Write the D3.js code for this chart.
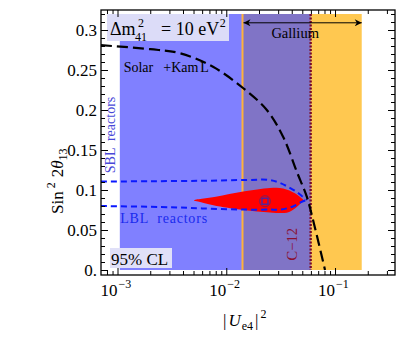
<!DOCTYPE html>
<html>
<head>
<meta charset="utf-8">
<script src="https://cdnjs.cloudflare.com/ajax/libs/d3/7.8.5/d3.min.js"></script>
<style>
  body { margin: 0; background: #fff; }
  svg text { font-family: "Liberation Serif", "DejaVu Serif", serif; }
</style>
</head>
<body>
<svg width="407" height="347" font-family="Liberation Serif, DejaVu Serif, serif"></svg>
<script>
// x = |Ue4|^2, y = sin^2 2theta13
const xDomain = [7.05e-4, 0.356]
const yDomain = [-0.00625, 0.325]
const bandTop = 0.32
const reactorBand = [0.00105, 0.0597]
const galliumBand = [0.0141, 0.176]
const c12Limit = 0.0597
const xMajor = [1e-3, 1e-2, 1e-1]
const xMajorLabels = ['\u22123', '\u22122', '\u22121']
const yMajor = [0, 0.05, 0.1, 0.15, 0.2, 0.25, 0.3]
const yMajorLabels = ['0.', '0.05', '0.1', '0.15', '0.2', '0.25', '0.3']

const solarKamL = [[7.05e-4, 0.281], [0.002, 0.276], [0.00376, 0.271], [0.00755, 0.254],
  [0.01425, 0.2275], [0.0236, 0.200], [0.0333, 0.1666], [0.0445, 0.1229],
  [0.055, 0.0916], [0.0628, 0.0625], [0.0809, 0]]
const sblCurve = [[7.05e-4, 0.1105], [0.002, 0.111], [0.006, 0.1115], [0.015, 0.1125],
  [0.025, 0.1125], [0.031, 0.109], [0.038, 0.103], [0.045, 0.097], [0.051, 0.091], [0.055, 0.0875]]
const lblCurve = [[7.05e-4, 0.080], [0.003, 0.0785], [0.006, 0.077], [0.015, 0.0755],
  [0.025, 0.0755], [0.031, 0.0755], [0.036, 0.077], [0.042, 0.080], [0.049, 0.085], [0.055, 0.0875]]
const allowedRegion = [[0.00505, 0.087], [0.008, 0.0915], [0.0143, 0.098], [0.0252, 0.1025],
  [0.0334, 0.102], [0.0428, 0.096], [0.048, 0.091], [0.051, 0.0875], [0.049, 0.084],
  [0.0428, 0.077], [0.036, 0.0717], [0.0252, 0.072], [0.0143, 0.075], [0.0076, 0.081], [0.0055, 0.0855]]
const bestFit = [0.0227, 0.086]

const svg = d3.select('svg')
const margin = {left: 101, right: 12, top: 10, bottom: 72}
const W = 407, H = 347

const x = d3.scaleLog().domain(xDomain).range([margin.left, W - margin.right])
const y = d3.scaleLinear().domain(yDomain).range([H - margin.bottom, margin.top])

const g = svg.append('g')

// bands
g.append('rect')
  .attr('x', x(reactorBand[0])).attr('y', y(bandTop))
  .attr('width', x(reactorBand[1]) - x(reactorBand[0]))
  .attr('height', y(0) - y(bandTop))
  .attr('fill', '#8080ff')
g.append('rect')
  .attr('x', x(galliumBand[0])).attr('y', y(bandTop))
  .attr('width', x(galliumBand[1]) - x(galliumBand[0]))
  .attr('height', y(0) - y(bandTop))
  .attr('fill', '#ffc850')
// overlap of the two
const ov = [Math.max(reactorBand[0], galliumBand[0]), Math.min(reactorBand[1], galliumBand[1])]
g.append('rect')
  .attr('x', x(ov[0])).attr('y', y(bandTop))
  .attr('width', x(ov[1]) - x(ov[0]))
  .attr('height', y(0) - y(bandTop))
  .attr('fill', '#8074c6')

// gallium lower edge line
g.append('line')
  .attr('x1', x(galliumBand[0])).attr('x2', x(galliumBand[0]))
  .attr('y1', y(bandTop)).attr('y2', y(0))
  .attr('stroke', '#ffb23a').attr('stroke-width', 2)

// delta m label box
g.append('rect').attr('x', 107).attr('y', y(bandTop)).attr('width', 122).attr('height', 27)
  .attr('fill', '#dcdcf8')

// C-12 dotted line
g.append('line')
  .attr('x1', x(c12Limit)).attr('x2', x(c12Limit))
  .attr('y1', y(bandTop)).attr('y2', y(0))
  .attr('stroke', '#7a0a2a').attr('stroke-width', 2.4).attr('stroke-dasharray', '2,1.5')

// allowed region
const line = d3.line().x(d => x(d[0])).y(d => y(d[1]))
g.append('path')
  .attr('d', line.curve(d3.curveCatmullRomClosed)(allowedRegion))
  .attr('fill', '#ff0000')

// reactor contours
const lineOpen = d3.line().x(d => x(d[0])).y(d => y(d[1])).curve(d3.curveCatmullRom)
g.append('path').attr('d', lineOpen(sblCurve))
  .attr('fill', 'none').attr('stroke', '#0a18ff').attr('stroke-width', 2).attr('stroke-dasharray', '6,4')
g.append('path').attr('d', lineOpen(lblCurve))
  .attr('fill', 'none').attr('stroke', '#0a18ff').attr('stroke-width', 2).attr('stroke-dasharray', '6,4')

// solar + kamland
g.append('path').attr('d', lineOpen(solarKamL))
  .attr('fill', 'none').attr('stroke', '#000').attr('stroke-width', 2.2).attr('stroke-dasharray', '11,5')

// best fit marker
g.append('circle').attr('cx', x(bestFit[0])).attr('cy', y(bestFit[1])).attr('r', 5.5)
  .attr('fill', 'none').attr('stroke', '#8a1a50').attr('stroke-width', 1)
g.append('rect').attr('x', x(bestFit[0]) - 3).attr('y', y(bestFit[1]) - 3)
  .attr('width', 6).attr('height', 6)
  .attr('fill', 'none').attr('stroke', '#3a2ab0').attr('stroke-width', 1.3)

// gallium arrow
const defs = svg.append('defs')
defs.append('marker').attr('id', 'ah').attr('viewBox', '0 0 10 10')
  .attr('refX', 10).attr('refY', 5).attr('markerWidth', 14).attr('markerHeight', 7)
  .attr('markerUnits', 'userSpaceOnUse').attr('orient', 'auto-start-reverse')
  .append('path').attr('d', 'M0,0 L10,5 L0,10 L3,5 Z').attr('fill', '#000')
g.append('line')
  .attr('x1', x(galliumBand[0]) + 1).attr('x2', x(galliumBand[1]))
  .attr('y1', y(0.309)).attr('y2', y(0.309))
  .attr('stroke', '#000').attr('stroke-width', 1)
  .attr('marker-start', 'url(#ah)').attr('marker-end', 'url(#ah)')
g.append('text').attr('x', x(0.043)).attr('y', y(0.29)).attr('text-anchor', 'middle')
  .attr('font-size', 14.5).text('Gallium')

// Δm label
const dmY = y(0.294)
g.append('text').attr('x', 110).attr('y', dmY).attr('font-size', 18).text('\u0394m')
g.append('text').attr('x', 138).attr('y', dmY - 8).attr('font-size', 12).text('2')
g.append('text').attr('x', 135).attr('y', dmY + 6).attr('font-size', 12).text('41')
const dmr = g.append('text').attr('x', 161).attr('y', dmY).attr('font-size', 18)
dmr.append('tspan').text('= 10 eV')
dmr.append('tspan').attr('font-size', 12).attr('dy', -8).attr('dx', 0.5).text('2')

// solar label
const sl = g.append('text').attr('x', x(0.00114)).attr('y', y(0.247)).attr('font-size', 14)
sl.append('tspan').text('Solar')
sl.append('tspan').attr('dx', 10).text('+Kam')
sl.append('tspan').attr('dx', 2).text('L')

// SBL / LBL labels
g.append('text')
  .attr('transform', `translate(${x(9.5e-4)},${y(0.121)}) rotate(-90)`)
  .attr('font-size', 14).attr('fill', '#4848d8').attr('text-anchor', 'start')
  .attr('xml:space', 'preserve').text('SBL  reactors')
g.append('text').attr('x', x(0.00106)).attr('y', y(0.0585))
  .attr('font-size', 14).attr('fill', '#1a2aee').attr('letter-spacing', 0.8)
  .attr('xml:space', 'preserve').text('LBL  reactors')

// C-12 label
g.append('text')
  .attr('transform', `translate(${x(0.0445)},${y(0.012)}) rotate(-90)`)
  .attr('font-size', 14.5).attr('fill', '#8a1030')
  .text('C\u221212')

// 95% CL box
g.append('rect').attr('x', 110).attr('y', 248).attr('width', 62).attr('height', 20).attr('fill', '#e0e0f8')
g.append('text').attr('x', 111).attr('y', 264.5).attr('font-size', 17).text('95% CL')

// frame + ticks
const minor = []
for (let e = -4; e <= 0; e++) for (let m = 2; m <= 9; m++) {
  const v = m * Math.pow(10, e)
  if (v > xDomain[0] && v < xDomain[1]) minor.push(v)
}
const yMinor = d3.range(0, 0.33, 0.01).filter(v => !yMajor.some(m => Math.abs(m - v) < 1e-6))
const yBottom = H - margin.bottom, yTop = margin.top, xLeft = margin.left, xRight = W - margin.right

const addAxis = (axis, tr) => {
  const a = g.append('g').attr('transform', tr).call(axis)
  a.select('.domain').remove()
  a.selectAll('line').attr('stroke', '#000')
  return a
}
addAxis(d3.axisBottom(x).tickValues(xMajor).tickSize(-7).tickFormat(''), `translate(0,${yBottom})`)
addAxis(d3.axisBottom(x).tickValues(minor).tickSize(-4).tickFormat(''), `translate(0,${yBottom})`)
addAxis(d3.axisTop(x).tickValues(xMajor).tickSize(-7).tickFormat(''), `translate(0,${yTop})`)
addAxis(d3.axisTop(x).tickValues(minor).tickSize(-4).tickFormat(''), `translate(0,${yTop})`)
addAxis(d3.axisLeft(y).tickValues(yMajor).tickSize(-7).tickFormat(''), `translate(${xLeft},0)`)
addAxis(d3.axisLeft(y).tickValues(yMinor).tickSize(-4).tickFormat(''), `translate(${xLeft},0)`)
addAxis(d3.axisRight(y).tickValues(yMajor).tickSize(-7).tickFormat(''), `translate(${xRight},0)`)
addAxis(d3.axisRight(y).tickValues(yMinor).tickSize(-4).tickFormat(''), `translate(${xRight},0)`)

g.append('rect').attr('x', xLeft).attr('y', yTop).attr('width', xRight - xLeft).attr('height', yBottom - yTop)
  .attr('fill', 'none').attr('stroke', '#000').attr('stroke-width', 1.3)

// tick labels
yMajor.forEach((v, i) => {
  g.append('text').attr('x', 97).attr('y', y(v) + 6).attr('text-anchor', 'end')
    .attr('font-size', 17).text(yMajorLabels[i])
})
xMajor.forEach((v, i) => {
  const t = g.append('text').attr('x', x(v) - 17).attr('y', 296).attr('font-size', 17)
  t.append('tspan').text('10')
  t.append('tspan').attr('font-size', 12).attr('dy', -8).attr('dx', 1).text(xMajorLabels[i])
})

// axis titles
const xt = g.append('text').attr('x', 223).attr('y', 326).attr('font-size', 17)
xt.append('tspan').text('|')
xt.append('tspan').attr('font-style', 'italic').attr('dx', 2).text('U')
xt.append('tspan').attr('font-size', 12).attr('dy', 4).attr('dx', 1).text('e4')
xt.append('tspan').attr('dy', -4).attr('dx', 2).text('|')
xt.append('tspan').attr('font-size', 12).attr('dy', -8).attr('dx', 2).text('2')

const yt = g.append('text').attr('transform', 'translate(63,214) rotate(-90)').attr('font-size', 17)
yt.append('tspan').text('Sin')
yt.append('tspan').attr('font-size', 12).attr('dy', -8).attr('dx', 3).text('2')
yt.append('tspan').attr('dy', 8).attr('dx', 5).text('2')
yt.append('tspan').attr('font-style', 'italic').text('\u03b8')
yt.append('tspan').attr('font-size', 12).attr('dy', 4).text('13')
</script>
</body>
</html>
